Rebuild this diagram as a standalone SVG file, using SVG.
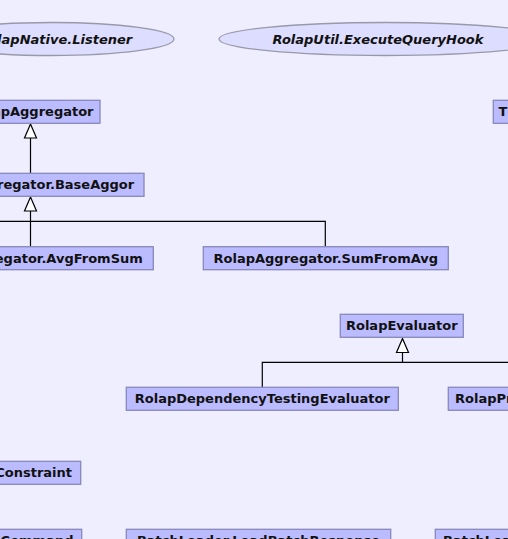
<svg xmlns="http://www.w3.org/2000/svg" width="508" height="539" viewBox="0 0 508 539">
<defs>
<style>
.bg{fill:#eeeeff}
.box{fill:#bbbbff;stroke:#8888bb;stroke-width:1.3}
.ell{fill:#ddddff;stroke:#9999aa;stroke-width:1.3}
.t{font-family:"DejaVu Sans",sans-serif;font-size:13px;font-weight:bold;fill:#111111}
.it{font-style:italic}
.c{text-anchor:middle}
.e{text-anchor:end}
.edge{fill:none;stroke:#000000;stroke-width:1.2}
.tri{fill:#ffffff;stroke:#000000;stroke-width:1.2}
</style>
</defs>
<rect class="bg" x="0" y="0" width="508" height="539"/>
<g id="connectors">
<path class="edge" d="M30.5,138 V173.3"/>
<polygon class="tri" points="30.5,124 24.5,138 36.5,138"/>
<path class="edge" d="M30.5,211 V247 M-120,221.3 H325.3 V247"/>
<polygon class="tri" points="30.5,197 24.5,211 36.5,211"/>
<path class="edge" d="M402.5,352.5 V362.3 M262.3,387.3 V362.3 H600"/>
<polygon class="tri" points="402.5,338.5 396.5,352.5 408.5,352.5"/>
</g>
<g id="node_listener">
<ellipse class="ell" cx="52" cy="39" rx="122" ry="16.5"/>
<text class="t it c" x="55.5" y="44">RolapNative.Listener</text>
</g>
<g id="node_hook">
<ellipse class="ell" cx="385" cy="39" rx="166" ry="16.5"/>
<text class="t it c" x="378" y="44">RolapUtil.ExecuteQueryHook</text>
</g>
<g id="node_aggregator">
<rect class="box" x="-38" y="100.3" width="138" height="23"/>
<text class="t c" x="31" y="116">RolapAggregator</text>
</g>
<g id="node_t">
<rect class="box" x="493.3" y="100.3" width="40" height="23"/>
<text class="t" x="498.5" y="116">T</text>
</g>
<g id="node_baseaggor">
<rect class="box" x="-83" y="173.3" width="227" height="23"/>
<text class="t c" x="30.5" y="189">RolapAggregator.BaseAggor</text>
</g>
<g id="node_avgfromsum">
<rect class="box" x="-92" y="246.7" width="245.3" height="23"/>
<text class="t c" x="30.5" y="262.5">RolapAggregator.AvgFromSum</text>
</g>
<g id="node_sumfromavg">
<rect class="box" x="203.3" y="246.7" width="245" height="23"/>
<text class="t c" x="325.8" y="262.5">RolapAggregator.SumFromAvg</text>
</g>
<g id="node_evaluator">
<rect class="box" x="340.3" y="314.3" width="123" height="23"/>
<text class="t c" x="401.8" y="330">RolapEvaluator</text>
</g>
<g id="node_deptest">
<rect class="box" x="126.3" y="387.3" width="272" height="23"/>
<text class="t c" x="262.3" y="403">RolapDependencyTestingEvaluator</text>
</g>
<g id="node_profiling">
<rect class="box" x="448.3" y="387.3" width="200" height="23"/>
<text class="t" x="455" y="403">RolapProfilingEvaluator</text>
</g>
<g id="node_constraint">
<rect class="box" x="-40" y="461.3" width="120.7" height="23"/>
<text class="t e" x="72" y="477">Constraint</text>
</g>
<g id="node_command">
<rect class="box" x="-40" y="529.3" width="121.7" height="23"/>
<text class="t e" x="73.5" y="545">Command</text>
</g>
<g id="node_loadbatchresponse">
<rect class="box" x="126.3" y="529.3" width="264.4" height="23"/>
<text class="t c" x="258.5" y="545">BatchLoader.LoadBatchResponse</text>
</g>
<g id="node_batchloader">
<rect class="box" x="435.3" y="529.3" width="200" height="23"/>
<text class="t" x="443" y="545">BatchLoader</text>
</g>
</svg>
